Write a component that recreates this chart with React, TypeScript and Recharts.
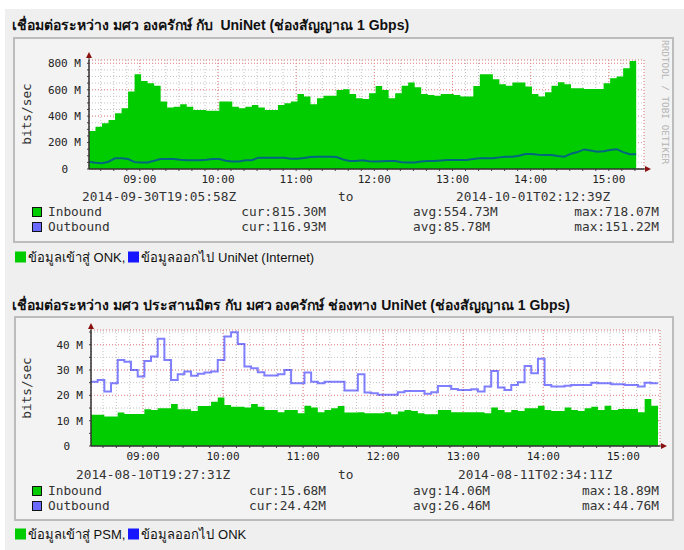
import React from 'react';
import { ComposedChart, Area, Line, XAxis, YAxis, CartesianGrid } from 'recharts';

// samples are 5 minutes apart, time = minutes since midnight
const STEP = 5;

// graph 1: มศว องครักษ์ <-> UniNet, values in Mbit/s
const start1 = 501;
const inbound1 = [
  288, 320, 346, 371, 422, 460, 586, 717, 667, 649, 631, 510, 465, 472, 490, 472, 447, 447, 440, 440, 510,
  510, 472, 460, 472, 485, 465, 447, 447, 485, 497, 510, 568, 548, 490, 535, 555, 555, 598, 603, 568, 535,
  530, 573, 629, 598, 535, 573, 631, 654, 619, 568, 561, 555, 568, 568, 561, 548, 548, 629, 717, 717, 679,
  641, 631, 654, 654, 624, 568, 548, 581, 631, 657, 641, 611, 611, 606, 606, 606, 649, 687, 700, 763, 818,
];
const outbound1 = [
  55, 48, 43, 55, 81, 81, 75, 52, 50, 50, 62, 76, 76, 76, 70, 66, 66, 66, 70, 76, 76,
  62, 56, 56, 66, 66, 86, 86, 86, 86, 86, 78, 78, 84, 90, 93, 93, 93, 90, 72, 61, 61,
  66, 58, 56, 58, 61, 61, 52, 50, 50, 56, 61, 61, 64, 68, 68, 68, 68, 76, 81, 81, 81,
  88, 93, 93, 100, 114, 114, 108, 106, 106, 98, 93, 116, 128, 148, 140, 131, 134, 144, 150, 128, 112,
];

// graph 2: มศว ประสานมิตร <-> มศว องครักษ์, values in Mbit/s
const start2 = 501;
const inbound2 = [
  12.3, 12.3, 11.6, 11.6, 13.2, 12.6, 12.6, 12.6, 14.5, 14.2, 14.9, 14.9, 16.6, 14.5, 14.5, 13.8, 15.8,
  15.8, 17.5, 19.1, 16.2, 15.5, 15.5, 15.2, 16.6, 15.5, 14.2, 14.2, 13.3, 14.2, 14.2, 12.9, 15.9, 15.2,
  13.3, 14.2, 14.9, 15.8, 13.2, 13.2, 13.3, 12.9,
  12.9, 12.9, 13.3, 12.5, 13.6, 14.2, 13.8, 12.9, 12.5, 12.5, 14.2, 14.2, 13.3, 13.3, 13.3, 13.3, 13.3,
  12.9, 15.2, 14.2, 13.3, 14.2, 13.8, 14.9, 14.9, 15.9, 14.2, 13.8, 13.8, 15.2, 14.2, 13.8, 14.9, 15.5,
  14.2, 15.9, 14.2, 14.6, 14.6, 14.6, 13.3, 18.6, 15.9,
];
const outbound2 = [
  25.4, 26.1, 21.5, 24.8, 34.0, 33.3, 30.0, 27.4, 33.6, 35.3, 42.3, 34.0, 26.1, 28.3, 29.4, 27.7, 28.5,
  29.0, 29.4, 34.0, 43.2, 44.9, 40.3, 31.4, 30.7, 29.1, 27.8, 27.8, 28.3, 30.0, 24.8, 24.8, 29.0, 25.4,
  24.8, 25.4, 25.4, 25.4, 21.9, 21.9, 28.3, 21.1,
  20.8, 20.2, 20.2, 20.2, 21.2, 21.7, 21.7, 21.7, 20.6, 21.2, 23.7, 23.7, 22.5, 22.1, 22.1, 22.4, 21.5,
  23.5, 29.6, 23.1, 22.1, 24.1, 25.2, 31.6, 28.7, 34.4, 24.1, 23.5, 23.5, 23.8, 24.1, 24.1, 24.1, 25.0,
  24.8, 24.8, 24.4, 24.4, 24.1, 24.1, 23.5, 25.0, 24.8,
];

const hourTicks = [540, 600, 660, 720, 780, 840, 900];
const hourLabels = ['09:00', '10:00', '11:00', '12:00', '13:00', '14:00', '15:00'];

const yTicks1 = [0, 200, 400, 600, 800];
const yLabels1 = ['0', '200 M', '400 M', '600 M', '800 M'];
const yTicks2 = [0, 10, 20, 30, 40];
const yLabels2 = ['0', '10 M', '20 M', '30 M', '40 M'];

const stats1 = [
  { name: 'Inbound', cur: 'cur:815.30M', avg: 'avg:554.73M', max: 'max:718.07M' },
  { name: 'Outbound', cur: 'cur:116.93M', avg: 'avg:85.78M', max: 'max:151.22M' },
];
const stats2 = [
  { name: 'Inbound', cur: 'cur:15.68M', avg: 'avg:14.06M', max: 'max:18.89M' },
  { name: 'Outbound', cur: 'cur:24.42M', avg: 'avg:26.46M', max: 'max:44.76M' },
];

const MONO = '"DejaVu Sans Mono", monospace';
const SANS = '"Liberation Sans", sans-serif';
const GREEN = '#00cc00';

function buildRows(start: number, inb: number[], outb: number[]) {
  const rows = inb.map((v, i) => ({ t: start + i * STEP, inb: v, outb: outb[i] }));
  const n = inb.length;
  // repeat the last sample so the final step gets its width
  rows.push({ t: start + n * STEP, inb: inb[n - 1], outb: outb[n - 1] });
  return rows;
}

function range(from: number, to: number, step: number) {
  const out: number[] = [];
  for (let v = Math.ceil(from / step) * step; v <= to; v += step) out.push(v);
  return out;
}

function Txt({ x, y, children, right, style }: any) {
  return (
    <div
      style={{
        position: 'absolute',
        left: x,
        top: y,
        transform: `translate(${right ? '-100%' : '0'}, -50%)`,
        whiteSpace: 'pre',
        lineHeight: 1,
        ...style,
      }}
    >
      {children}
    </div>
  );
}

function Sq({ x, y, size, color }: any) {
  return (
    <div
      style={{
        position: 'absolute',
        left: x,
        top: y - size / 2,
        width: size,
        height: size,
        boxSizing: 'border-box',
        background: color,
        border: '1px solid #111',
      }}
    />
  );
}

function RrdGraph({ data, top, height, margin, xDomain, yDomain, yMinorStep, yTicks, yLabels, outType }: any) {
  const xMinor = range(xDomain[0], xDomain[1], 10);
  const yMinor = range(yDomain[0], yDomain[1], yMinorStep);
  const fmtX = (v: number) => {
    const i = hourTicks.indexOf(v);
    return i >= 0 ? hourLabels[i] : '';
  };
  const renderYTick = (p: any) => {
    const i = yTicks.indexOf(p.payload.value);
    if (i < 0) return <g />;
    const lab = yLabels[i];
    return (
      <text
        x={lab === '0' ? p.x - 13 : p.x}
        y={p.y}
        dy="0.355em"
        textAnchor="end"
        fontSize={11}
        fontFamily={MONO}
        fill="#222"
      >
        {lab}
      </text>
    );
  };
  return (
    <div style={{ position: 'absolute', left: 0, top }}>
      <ComposedChart width={684} height={height} data={data} margin={margin}>
        <XAxis
          xAxisId={0}
          dataKey="t"
          type="number"
          domain={xDomain}
          allowDataOverflow
          ticks={xMinor}
          interval={0}
          tickFormatter={fmtX}
          height={20}
          tickSize={2}
          tickMargin={4}
          tick={{ fontSize: 11, fontFamily: MONO, fill: '#222' }}
          tickLine={{ stroke: '#444' }}
          axisLine={{ stroke: '#333' }}
        />
        <XAxis
          xAxisId="major"
          dataKey="t"
          type="number"
          domain={xDomain}
          allowDataOverflow
          ticks={hourTicks}
          height={0}
          hide
        />
        <YAxis
          yAxisId={0}
          type="number"
          domain={yDomain}
          allowDataOverflow
          ticks={yMinor}
          interval={0}
          width={60}
          tickSize={2}
          tickMargin={6}
          tick={renderYTick}
          tickLine={{ stroke: '#444' }}
          axisLine={{ stroke: '#333' }}
        />
        <YAxis yAxisId="major" type="number" domain={yDomain} allowDataOverflow ticks={yTicks} width={0} hide />
        <CartesianGrid xAxisId={0} yAxisId={0} stroke="#c4c4c4" strokeDasharray="1 2" fill="#fff" fillOpacity={1} />
        <CartesianGrid xAxisId="major" yAxisId="major" stroke="#f08a8a" strokeDasharray="1 2" />
        <Area
          xAxisId={0}
          yAxisId={0}
          dataKey="inb"
          type="stepAfter"
          fill={GREEN}
          fillOpacity={1}
          stroke="none"
          isAnimationActive={false}
        />
        <Line
          xAxisId={0}
          yAxisId={0}
          dataKey="outb"
          type={outType}
          stroke="#0000ff"
          strokeOpacity={0.5}
          strokeWidth={2}
          dot={false}
          isAnimationActive={false}
        />
      </ComposedChart>
    </div>
  );
}

function Arrows({ ax, ay, xEnd, yTop }: any) {
  const c = '#8a1010';
  return (
    <svg style={{ position: 'absolute', left: 0, top: 0 }} width={684} height={550}>
      <line x1={ax} y1={ay} x2={ax} y2={yTop + 3} stroke="#333" />
      <polygon points={`${ax - 3},${yTop + 5} ${ax + 3},${yTop + 5} ${ax},${yTop - 1}`} fill={c} />
      <line x1={ax} y1={ay} x2={xEnd - 3} y2={ay} stroke="#333" />
      <polygon points={`${xEnd - 5},${ay - 3} ${xEnd - 5},${ay + 3} ${xEnd + 1},${ay}`} fill={c} />
    </svg>
  );
}

function Stats({ rows, y0 }: any) {
  const mono = { fontFamily: MONO, fontSize: 12.8, color: '#333' };
  return (
    <>
      {rows.map((r: any, i: number) => {
        const y = y0 + i * 15;
        return (
          <React.Fragment key={r.name}>
            <Sq x={32} y={y} size={10} color={i === 0 ? GREEN : '#6a6aff'} />
            <Txt x={48} y={y} style={mono}>{r.name}</Txt>
            <Txt x={326} y={y} right style={mono}>{r.cur}</Txt>
            <Txt x={413} y={y} style={mono}>{r.avg}</Txt>
            <Txt x={659} y={y} right style={mono}>{r.max}</Txt>
          </React.Fragment>
        );
      })}
    </>
  );
}

function Note({ y, inText, outText }: any) {
  const sq = (c: string) => (
    <span style={{ display: 'inline-block', width: 11, height: 11, background: c, marginRight: 2 }} />
  );
  return (
    <div
      style={{
        position: 'absolute',
        left: 15,
        top: y,
        transform: 'translateY(-50%)',
        display: 'flex',
        alignItems: 'center',
        fontFamily: SANS,
        fontSize: 13,
        color: '#111',
        whiteSpace: 'pre',
        lineHeight: 1,
      }}
    >
      {sq(GREEN)}
      <span>{inText}</span>
      <span style={{ width: 3 }} />
      {sq('#1616ff')}
      <span>{outText}</span>
    </div>
  );
}

export default function App() {
  const data1 = buildRows(start1, inbound1, outbound1);
  const data2 = buildRows(start2, inbound2, outbound2);
  const mono = { fontFamily: MONO, fontSize: 12.8, color: '#333' };
  const title = { fontFamily: SANS, fontSize: 14, fontWeight: 'bold', color: '#111' };
  const box = {
    position: 'absolute' as const,
    boxSizing: 'border-box' as const,
    border: '2px solid #bcbcbc',
    background: '#f3f3f3',
  };

  return (
    <div style={{ position: 'relative', width: 684, height: 550, background: '#fff', overflow: 'hidden' }}>
      <style>{'body{margin:0}'}</style>
      <div style={{ position: 'absolute', left: 5, top: 9, right: 0, bottom: 0, background: '#efefef' }} />

      <Txt x={12} y={25} style={title}>เชื่อมต่อระหว่าง มศว องครักษ์ กับ  UniNet (ช่องสัญญาณ 1 Gbps)</Txt>
      <div style={{ ...box, left: 13, top: 37, width: 661, height: 206 }} />
      <RrdGraph
        data={data1}
        top={40}
        height={150}
        margin={{ top: 20, right: 40, bottom: 1, left: 29 }}
        xDomain={[501, 927]}
        yDomain={[0, 825]}
        yMinorStep={50}
        yTicks={yTicks1}
        yLabels={yLabels1}
        outType="linear"
      />
      <Arrows ax={89} ay={169} xEnd={650} yTop={53} />
      <svg style={{ position: 'absolute', left: 0, top: 0 }} width={684} height={300}>
        <text
          transform="translate(27,114) rotate(-90)"
          textAnchor="middle"
          dy="0.35em"
          fontFamily={MONO}
          fontSize={12.8}
          fill="#333"
        >
          bits/sec
        </text>
        <text
          transform="translate(665,40) rotate(90)"
          dy="0.35em"
          fontFamily={MONO}
          fontSize={9.4}
          fill="#b4b4b4"
        >
          RRDTOOL / TOBI OETIKER
        </text>
      </svg>
      <Txt x={82} y={196.5} style={mono}>2014-09-30T19:05:58Z</Txt>
      <Txt x={338} y={196.5} style={mono}>to</Txt>
      <Txt x={456} y={196.5} style={mono}>2014-10-01T02:12:39Z</Txt>
      <Stats rows={stats1} y0={212} />
      <Note y={257} inText="ข้อมูลเข้าสู่ ONK," outText="ข้อมูลออกไป UniNet (Internet)" />

      <Txt x={12} y={305} style={title}>เชื่อมต่อระหว่าง มศว ประสานมิตร กับ มศว องครักษ์ ช่องทาง UniNet (ช่องสัญญาณ 1 Gbps)</Txt>
      <div style={{ ...box, left: 14, top: 316, width: 660, height: 205 }} />
      <RrdGraph
        data={data2}
        top={310}
        height={160}
        margin={{ top: 20, right: 24, bottom: 4, left: 31 }}
        xDomain={[501, 927.5]}
        yDomain={[0, 45.8]}
        yMinorStep={5}
        yTicks={yTicks2}
        yLabels={yLabels2}
        outType="stepAfter"
      />
      <Arrows ax={91} ay={446} xEnd={666} yTop={324} />
      <svg style={{ position: 'absolute', left: 0, top: 300 }} width={684} height={200}>
        <text
          transform="translate(27,88) rotate(-90)"
          textAnchor="middle"
          dy="0.35em"
          fontFamily={MONO}
          fontSize={12.8}
          fill="#333"
        >
          bits/sec
        </text>
      </svg>
      <Txt x={76} y={475} style={mono}>2014-08-10T19:27:31Z</Txt>
      <Txt x={338} y={475} style={mono}>to</Txt>
      <Txt x={458} y={475} style={mono}>2014-08-11T02:34:11Z</Txt>
      <Stats rows={stats2} y0={491} />
      <Note y={534} inText="ข้อมูลเข้าสู่ PSM," outText="ข้อมูลออกไป ONK" />
    </div>
  );
}
